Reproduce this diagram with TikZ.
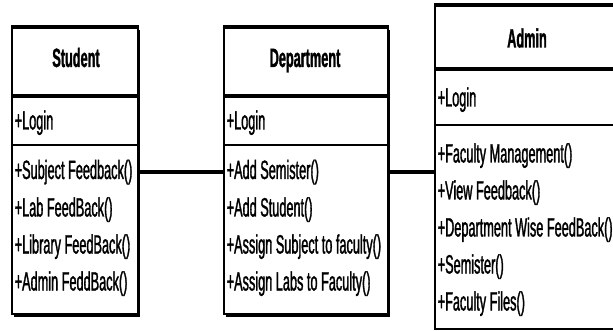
\documentclass[tikz,border=0pt]{standalone}
\usepackage{fontspec}
\setmainfont[FakeStretch=0.48]{Liberation Sans}
\newfontfamily\memberfont[FakeStretch=0.48, FakeBold=1.2]{Liberation Sans}
\newfontfamily\namefont[FakeStretch=0.48, FakeBold=1.2]{Liberation Sans Bold}
\usetikzlibrary{shadows}

\begin{document}
\begin{tikzpicture}[x=1pt,y=-1pt,
    classbox/.style={draw, fill=white, line width=1.6pt, inner sep=0pt},
    boxshadow/.style={drop shadow={shadow xshift=2pt, shadow yshift=-2.5pt, fill=black, opacity=1}},
    heavyline/.style={line width=4.5pt},
    midline/.style={line width=2.8pt},
    classname/.style={font=\fontsize{26.5}{28}\namefont, anchor=base, inner sep=0pt},
    member/.style={font=\fontsize{26.5}{28}\memberfont, anchor=base west, inner sep=0pt},
    assoc/.style={line width=4pt}]
  \clip (0,0) rectangle (613,331);
  % Student
  \node[classbox, boxshadow, minimum width=126pt, minimum height=286pt] (stu) at (75,171) {};
  \draw[heavyline] (stu.north west) -- (stu.north east);
  \draw[heavyline] (stu.west |- 0,96) -- (stu.east |- 0,96);
  \draw[midline] (stu.west |- 0,145) -- (stu.east |- 0,145);
  \node[classname] (stuName) at (76,67) {Student};
  \node[member] (stuAttr) at (14.5,129.5) {+Login};
  \node[member] (stuOp1) at (14.5,179) {+Subject Feedback()};
  \node[member] (stuOp2) at (14.5,216.5) {+Lab FeedBack()};
  \node[member] (stuOp3) at (14.5,253.5) {+Library FeedBack()};
  \node[member] (stuOp4) at (14.5,290.5) {+Admin FeddBack()};
  % Department
  \node[classbox, boxshadow, minimum width=164pt, minimum height=286pt] (dep) at (306,171) {};
  \draw[heavyline] (dep.north west) -- (dep.north east);
  \draw[heavyline] (dep.west |- 0,96) -- (dep.east |- 0,96);
  \draw[midline] (dep.west |- 0,145) -- (dep.east |- 0,145);
  \node[classname] (depName) at (305,67) {Department};
  \node[member] (depAttr) at (226.5,129.5) {+Login};
  \node[member] (depOp1) at (226.5,179) {+Add Semister()};
  \node[member] (depOp2) at (226.5,216.5) {+Add Student()};
  \node[member] (depOp3) at (226.5,253.5) {+Assign Subject to faculty()};
  \node[member] (depOp4) at (226.5,290.5) {+Assign Labs to Faculty()};
  % Admin
  \node[classbox, minimum width=185pt, minimum height=323pt] (adm) at (527.5,167.5) {};
  \draw[heavyline] (adm.north west) -- (adm.north east);
  \draw[heavyline] (adm.west |- 0,69) -- (adm.east |- 0,69);
  \draw[midline] (adm.west |- 0,125) -- (adm.east |- 0,125);
  \node[classname] (admName) at (527,47.5) {Admin};
  \node[member] (admAttr) at (437.5,106.5) {+Login};
  \node[member] (admOp1) at (437.5,162.5) {+Faculty Management()};
  \node[member] (admOp2) at (437.5,199.5) {+View Feedback()};
  \node[member] (admOp3) at (437.5,236.5) {+Department Wise FeedBack()};
  \node[member] (admOp4) at (437.5,273.5) {+Semister()};
  \node[member] (admOp5) at (437.5,310.5) {+Faculty Files()};
  % associations
  \draw[assoc] (stu.east |- stuOp1.west) -- (dep.west |- stuOp1.west);
  \draw[assoc] (dep.east |- depOp1.west) -- (adm.west |- depOp1.west);
\end{tikzpicture}
\end{document}
